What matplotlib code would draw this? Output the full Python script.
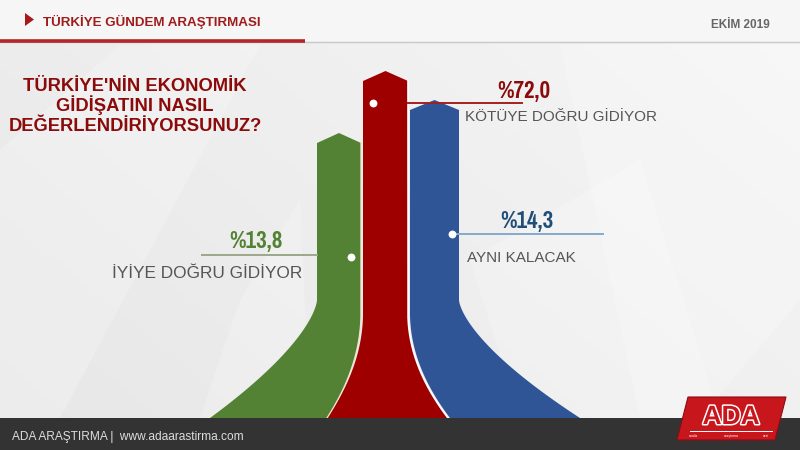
import os
import numpy as np
import matplotlib
matplotlib.use("Agg")
import matplotlib.pyplot as plt
from matplotlib import font_manager
from matplotlib.patches import Polygon
import matplotlib.patheffects as pe

# survey data
categories = ["İYİYE DOĞRU GİDİYOR", "KÖTÜYE DOĞRU GİDİYOR", "AYNI KALACAK"]
values = [13.8, 72.0, 14.3]
colors = ["#548235", "#9e0000", "#2f5597"]
value_colors = ["#548235", "#8b0a0a", "#1f4e79"]
title_lines = ["TÜRKİYE'NİN EKONOMİK", "GİDİŞATINI NASIL", "DEĞERLENDİRİYORSUNUZ?"]
header = "TÜRKİYE GÜNDEM ARAŞTIRMASI"
date_label = "EKİM 2019"
footer = "ADA ARAŞTIRMA |  www.adaarastirma.com"

names = {f.name for f in font_manager.fontManager.ttflist}
SANS = "Liberation Sans" if "Liberation Sans" in names else "DejaVu Sans"

# look for a narrow bold face for the percentages (most condensed first)
files = [f.fname for f in font_manager.fontManager.ttflist]
narrow_file = None
for key in ["sansnarrow-bold", "narrow-bold", "robotocondensed-bold", "condensed-bold",
            "condensedbold", "sanscondensed-bold"]:
    hits = [fn for fn in files if key in os.path.basename(fn).lower().replace("_", "-")
            and "italic" not in fn.lower() and "oblique" not in fn.lower()
            and "mono" not in fn.lower()]
    if hits:
        narrow_file = hits[0]
        break

W, H = 800, 450
BASE = 418
fig = plt.figure(figsize=(8, 4.5), dpi=100)
ax = fig.add_axes([0, 0, 1, 1])
ax.set_xlim(0, W)
ax.set_ylim(H, 0)
ax.axis("off")

# background: soft grey gradient with faint facets
gx, gy = np.meshgrid(np.linspace(0, 1, 200), np.linspace(0, 1, 120))
grad = 0.905 + 0.06 * (0.6 * gx + 0.4 * (1 - gy))
ax.imshow(np.dstack([grad] * 3), extent=[0, W, H, 0], aspect="auto", zorder=0)
facets = [
    [(560, 45), (800, 45), (800, 300), (700, 418), (640, 418)],
    [(0, 150), (120, 45), (260, 45), (60, 418), (0, 418)],
    [(470, 260), (640, 160), (720, 418), (520, 418)],
    [(240, 300), (300, 200), (310, 418), (200, 418)],
]
for pts in facets:
    ax.add_patch(Polygon(pts, closed=True, fc="white", ec="none", alpha=0.22, zorder=1))

# header band
ax.add_patch(Polygon([(0, 0), (W, 0), (W, 42), (0, 42)], fc="#f6f6f6", ec="none", zorder=1))
ax.plot([0, W], [42, 42], color="#c8c8c8", lw=1, zorder=2)
ax.plot([0, 305], [41, 41], color="#b3262a", lw=2.6, solid_capstyle="butt", zorder=3)
ax.add_patch(Polygon([(25, 13), (25, 26), (34, 19.5)], fc="#a8191d", ec="none", zorder=3))
ax.text(43, 26, header, color="#a01c1c", fontsize=9.6, fontweight="bold",
        family=SANS, va="baseline", ha="left", zorder=4)
ax.text(770, 28, date_label, color="#666666", fontsize=8.5, fontweight="bold",
        family=SANS, va="baseline", ha="right", zorder=4)

# question title
for i, line in enumerate(title_lines):
    ax.text(135, 91 + 20 * i, line, color="#8b0a0a", fontsize=13.2, fontweight="bold",
            family=SANS, ha="center", va="baseline", zorder=4)

# arrow columns: (left, right, peak, left shift, right shift, left curve start, right curve start, powers)
cols = [
    (317, 361, 133, -107, -34, 300, 313, 1.5, 2.0),
    (363, 408, 71, -36, 40, 313, 313, 2.0, 2.0),
    (410, 459, 100, 40, 121, 313, 300, 2.0, 1.5),
]


def edge(x0, dx, y0, p, ys):
    return x0 + dx * np.clip((ys - y0) / (BASE - y0), 0, 1) ** p


ys = np.linspace(0, 1, 240)
edges = []
for (xl, xr, peak, dl, dr, yl, yr, pl, pr), c in zip(cols, colors):
    sh = peak + 10
    yy = sh + (BASE - sh) * ys
    xs_l = edge(xl, dl, yl, pl, yy)
    xs_r = edge(xr, dr, yr, pr, yy)
    pts = [((xl + xr) / 2, peak)] + list(zip(xs_r, yy)) + list(zip(xs_l[::-1], yy[::-1]))
    ax.add_patch(Polygon(pts, closed=True, fc=c, ec="none", zorder=5))
    edges.append((xs_l, xs_r, yy))

# thin separators between columns
ax.plot(edges[0][1], edges[0][2], color="#f1e4cf", lw=0.9, zorder=6)
ax.plot(edges[1][1], edges[1][2], color="white", lw=1.2, zorder=6)

# callouts: dot, leader line, value, label
dots = [(351, 257), (373, 103), (452, 234)]
leaders = [((202, 317), 255, "#9aa88a"), ((408, 522), 103, "#a52020"), ((455, 603), 234, "#86a9cc")]
value_pos = [(229, 248), (497, 98), (500, 228)]
value_width = 57
label_pos = [(112, 278), (465, 121), (467, 262)]
label_size = [12.4, 11, 11]
value_texts = []
for i in range(3):
    (x0, x1), ly, lc = leaders[i]
    ax.plot([x0, x1], [ly, ly], color=lc, lw=1.4, zorder=6)
    ax.scatter([dots[i][0]], [dots[i][1]], s=32, color="white", zorder=7, linewidths=0)
    txt = "%" + f"{values[i]:.1f}".replace(".", ",")
    if narrow_file:
        fp = font_manager.FontProperties(fname=narrow_file, size=18)
    else:
        fp = font_manager.FontProperties(family=SANS, weight="bold", size=18)
    t = ax.text(value_pos[i][0], value_pos[i][1], txt, color=value_colors[i],
                fontproperties=fp, ha="left", va="baseline", zorder=7)
    value_texts.append(t)
    ax.text(label_pos[i][0], label_pos[i][1], categories[i], color="#555555",
            fontsize=label_size[i], family=SANS, ha="left", va="baseline", zorder=7)

# shrink the percentages to about the width they take in the original
fig.canvas.draw()
renderer = fig.canvas.get_renderer()
for t in value_texts:
    w = t.get_window_extent(renderer).width
    if w > value_width:
        t.set_fontsize(18 * value_width / w)

# footer bar
ax.add_patch(Polygon([(0, BASE), (W, BASE), (W, H), (0, H)], fc="#333333", ec="none", zorder=8))
ax.text(12, 437, footer, color="#dddddd", fontsize=8.6, family=SANS,
        ha="left", va="center", zorder=9)

# logo
ax.add_patch(Polygon([(688, 397), (786, 397), (775, 440), (677, 440)], fc="#c8161d",
                     ec="#8a0d12", lw=0.8, zorder=10))
ax.plot([690, 772], [431, 431], color="white", lw=0.7, zorder=11)
logo = ax.text(731, 417, "ADA", color="#c8161d", fontsize=19, fontweight="bold", family=SANS,
               ha="center", va="center", zorder=11)
logo.set_path_effects([pe.Stroke(linewidth=2.2, foreground="white"), pe.Normal()])
for lx, word in zip([694, 731, 766], ["analiz", "araştırma", "veri"]):
    ax.text(lx, 436, word, color="white", fontsize=2.5, family=SANS, ha="center",
            va="center", zorder=11)

fig.savefig("out.png", dpi=100)
